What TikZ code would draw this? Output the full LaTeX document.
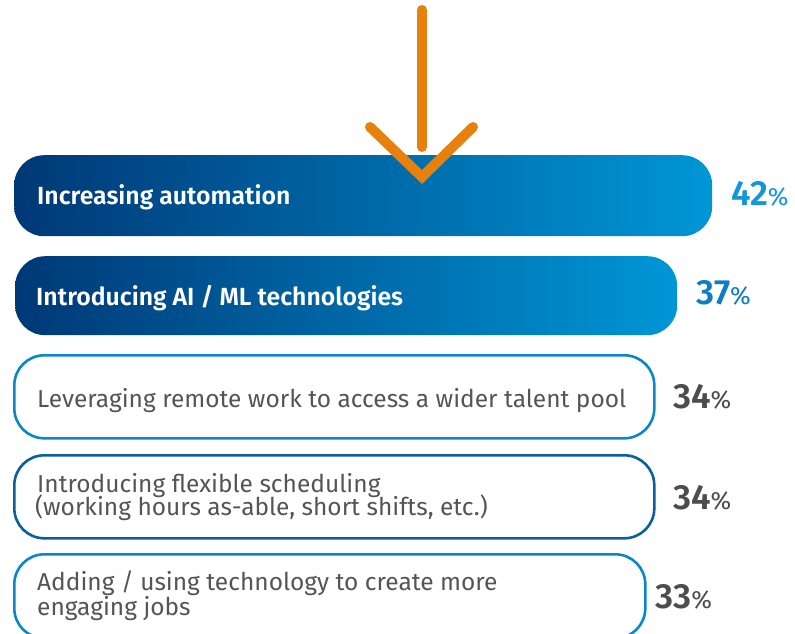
\documentclass[tikz,border=0pt]{standalone}
\usepackage{fontspec}
\setmainfont{Fira Sans}[BoldFont={Fira Sans SemiBold}]
\begin{document}
\begin{tikzpicture}[x=1pt,y=-1pt,
  bar/.style={rounded corners=30pt, inner sep=0pt, anchor=north west},
  fillbar/.style={bar, left color=navyL, right color=blueR},
  linebar/.style={bar, draw=#1, line width=2.6pt, fill=white},
  boldlbl/.style={anchor=base west, inner sep=0pt, text=white, font=\fontsize{24.8}{28}\selectfont\bfseries},
  lbl/.style={anchor=base west, inner sep=0pt, text=txtgray, font=\fontsize{24.5}{26}\selectfont, align=left},
  pct/.style={anchor=base west, inner sep=0pt, text=#1, font=\fontsize{35}{38}\selectfont\bfseries},
  arrowline/.style={draw=orangeA, line width=10pt, line cap=round, line join=miter}
]
\definecolor{navyL}{RGB}{0,56,118}
\definecolor{blueR}{RGB}{0,150,214}
\definecolor{txtgray}{RGB}{85,85,85}
\definecolor{pctgray}{RGB}{77,77,77}
\definecolor{pctblue1}{RGB}{20,150,215}
\definecolor{pctblue2}{RGB}{15,125,195}
\definecolor{edge1}{RGB}{10,135,200}
\definecolor{edge2}{RGB}{10,95,160}
\definecolor{orangeA}{RGB}{232,128,14}
\useasboundingbox (0,0) rectangle (795,634);
\begin{scope}
\clip (0,0) rectangle (795,634);
% filled bars
\node[fillbar, minimum width=698pt, minimum height=81pt] (b1) at (14,155) {};
\node[fillbar, minimum width=662pt, minimum height=79pt] (b2) at (15,256) {};
% outlined bars
\node[linebar=edge1, minimum width=640pt, minimum height=83pt] (b3) at (13,354) {};
\node[linebar=edge2, minimum width=640pt, minimum height=83pt] (b4) at (13,454) {};
\node[linebar=edge1, minimum width=631pt, minimum height=84pt] (b5) at (13,553) {};
% labels
\node[boldlbl] (t1) at (37,204) {Increasing automation};
\node[boldlbl] (t2) at (36,305) {Introducing AI / ML technologies};
\node[lbl] (t3) at (37,407) {Leveraging remote work to access a wider talent pool};
\node[lbl] (t4a) at (37,492) {Introducing flexible scheduling};
\node[lbl] (t4b) at (35,515) {(working hours as-able, short shifts, etc.)};
\node[lbl] (t5a) at (37,590) {Adding / using technology to create more};
\node[lbl] (t5b) at (37,615) {engaging jobs};
% percentages
\node[pct=pctblue1] (p1) at (731,205) {42{\mdseries\fontsize{25}{26}\selectfont\%}};
\node[pct=pctblue2] (p2) at (696,304) {37{\mdseries\fontsize{25}{26}\selectfont\%}};
\node[pct=pctgray] (p3) at (673,408) {34{\mdseries\fontsize{25}{26}\selectfont\%}};
\node[pct=pctgray] (p4) at (673,509) {34{\mdseries\fontsize{25}{26}\selectfont\%}};
\node[pct=pctgray] (p5) at (655,608) {33{\mdseries\fontsize{25}{26}\selectfont\%}};
% arrow
\coordinate (aTop) at (422,10);
\coordinate (aBot) at (422,147);
\coordinate (cL) at (370,127);
\coordinate (cT) at (422,177);
\coordinate (cR) at (473,127);
\draw[arrowline] (aTop) -- (aBot);
\draw[arrowline] (cL) -- (cT) -- (cR);
\end{scope}
\end{tikzpicture}
\end{document}
